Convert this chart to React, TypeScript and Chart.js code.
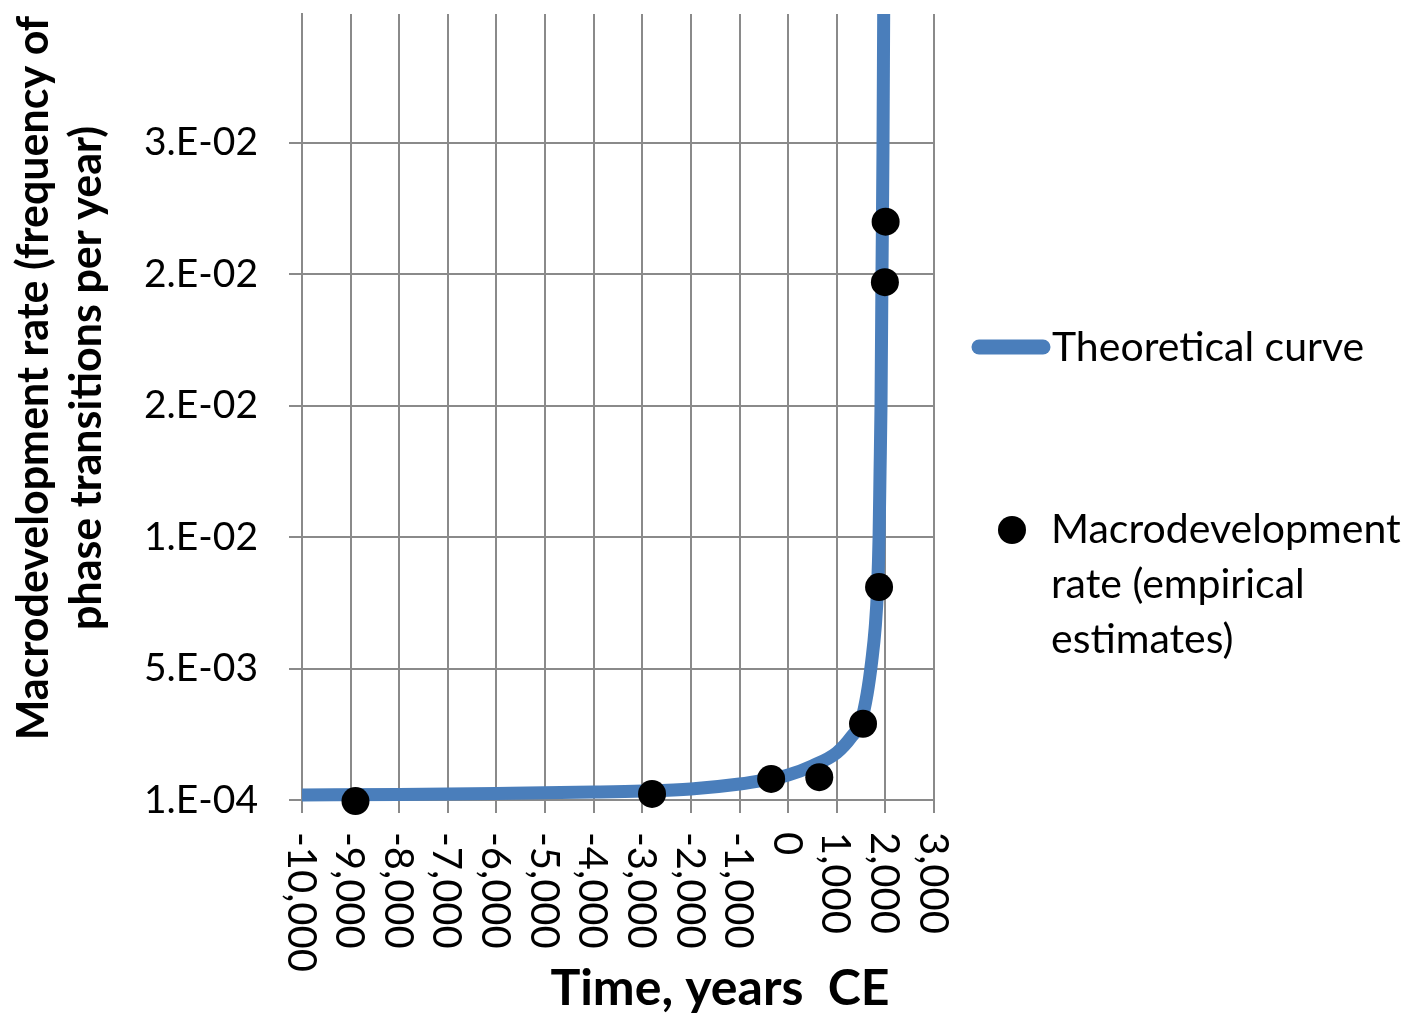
import React, { useEffect, useRef } from "react";
import { Chart, registerables } from "chart.js";

Chart.register(...registerables);

// ---------- data ----------
const xTickValues = [-10000, -9000, -8000, -7000, -6000, -5000, -4000, -3000, -2000, -1000, 0, 1000, 2000, 3000];
const xTickLabels = ["-10,000", "-9,000", "-8,000", "-7,000", "-6,000", "-5,000", "-4,000", "-3,000", "-2,000", "-1,000", "0", "1,000", "2,000", "3,000"];
const yTickValues = [0.0001, 0.0051, 0.0101, 0.0151, 0.0201, 0.0251];
const yTickLabels = ["1.E-04", "5.E-03", "1.E-02", "2.E-02", "2.E-02", "3.E-02"];

const curveYears = [-10000, -8000, -6000, -4000, -3000, -2000, -1000, -500, 0, 500, 1000, 1300, 1500, 1625, 1720, 1790, 1840, 1870, 1890, 1910, 1930, 1950, 1965];
const curveRates = [0.00029, 0.00031, 0.00035, 0.0004, 0.00044, 0.00052, 0.00071, 0.00086, 0.00105, 0.0014, 0.0019, 0.0025, 0.0031, 0.00415, 0.0054, 0.00665, 0.0082, 0.0101, 0.0126, 0.0151, 0.0201, 0.0247, 0.03];

const empiricalYears = [-8900, -2800, -350, 640, 1540, 1870, 1990, 2005];
const empiricalRates = [0.00006, 0.00033, 0.0009, 0.00097, 0.003, 0.0082, 0.0198, 0.0221];

const curveLabel = "Theoretical curve";
const empiricalLabel = "Macrodevelopment rate (empirical estimates)";
const empiricalLegendLines = ["Macrodevelopment", "rate (empirical", "estimates)"];
const xTitle = "Time, years  CE";
const yTitleLines = ["Macrodevelopment rate (frequency of", "phase transitions per year)"];

// ---------- styles ----------
const FONT = 'Lato, "Open Sans", sans-serif';
const BLUE = "#4A7EBB";
const GRID = "#8a8a8a";
const W = 1421;
const H = 1017;

const overlayPlugin = {
  id: "overlay",
  afterDraw(chart: any) {
    const ctx: CanvasRenderingContext2D = chart.ctx;
    const xs = chart.scales.x;
    const area = chart.chartArea;
    ctx.save();
    ctx.fillStyle = "#000";

    // x tick labels, rotated clockwise (read top to bottom)
    const tickSize = 40;
    ctx.font = `${tickSize}px ${FONT}`;
    ctx.textAlign = "left";
    ctx.textBaseline = "alphabetic";
    const capH = tickSize * 0.72;
    xTickValues.forEach((v, i) => {
      const px = xs.getPixelForValue(v);
      ctx.save();
      ctx.translate(px, area.bottom + 32);
      ctx.rotate(Math.PI / 2);
      ctx.fillText(xTickLabels[i], 0, capH / 2);
      ctx.restore();
    });

    // x title
    ctx.font = `bold 50px ${FONT}`;
    ctx.textAlign = "center";
    ctx.fillText(xTitle, 720, 1005);

    // y title (two lines, reading upward)
    ctx.font = `bold 43px ${FONT}`;
    const midY = 378;
    [48, 101].forEach((bx, i) => {
      ctx.save();
      ctx.translate(bx, midY);
      ctx.rotate(-Math.PI / 2);
      ctx.fillText(yTitleLines[i], 0, 0);
      ctx.restore();
    });

    // legend
    const ds0 = chart.data.datasets[0];
    const ds1 = chart.data.datasets[1];
    const lx = area.right + 46;
    ctx.strokeStyle = ds0.borderColor;
    ctx.lineWidth = 15;
    ctx.lineCap = "round";
    ctx.beginPath();
    ctx.moveTo(lx - 1, 347);
    ctx.lineTo(lx + 63, 347);
    ctx.stroke();
    ctx.font = `41px ${FONT}`;
    ctx.textAlign = "left";
    ctx.textBaseline = "alphabetic";
    ctx.fillStyle = "#000";
    ctx.fillText(ds0.label, 1052, 361);

    ctx.fillStyle = ds1.backgroundColor;
    ctx.beginPath();
    ctx.arc(1012, 530, 14, 0, Math.PI * 2);
    ctx.fill();
    ctx.fillStyle = "#000";
    empiricalLegendLines.forEach((line, i) => {
      ctx.fillText(line, 1051, 543 + i * 55);
    });

    ctx.restore();
  },
};

export default function App() {
  const canvasRef = useRef<HTMLCanvasElement | null>(null);

  useEffect(() => {
    const canvas = canvasRef.current;
    if (!canvas) return;
    const chart = new Chart(canvas, {
      type: "scatter",
      data: {
        datasets: [
          {
            label: curveLabel,
            data: curveYears.map((x, i) => ({ x, y: curveRates[i] })),
            showLine: true,
            borderColor: BLUE,
            backgroundColor: BLUE,
            borderWidth: 13,
            pointRadius: 0,
            pointHoverRadius: 0,
            cubicInterpolationMode: "monotone",
            borderJoinStyle: "round",
            clip: { left: 0, top: 0, right: 0, bottom: 8 },
            order: 2,
          } as any,
          {
            label: empiricalLabel,
            data: empiricalYears.map((x, i) => ({ x, y: empiricalRates[i] })),
            showLine: false,
            pointRadius: 14,
            pointHoverRadius: 14,
            pointBackgroundColor: "#000",
            pointBorderColor: "#000",
            backgroundColor: "#000",
            borderColor: "#000",
            borderWidth: 0,
            clip: false,
            order: 1,
          } as any,
        ],
      },
      options: {
        animation: false,
        responsive: false,
        events: [],
        layout: { padding: { left: 0, top: 12, right: W - 934, bottom: 0 } },
        plugins: {
          legend: { display: false },
          tooltip: { enabled: false },
        },
        scales: {
          x: {
            type: "linear",
            min: -10000,
            max: 3000,
            afterFit: (scale: any) => {
              scale.height = 217;
              scale.paddingLeft = 0;
              scale.paddingRight = 0;
              scale.paddingTop = 0;
              scale.paddingBottom = 0;
            },
            ticks: { display: false, stepSize: 1000 },
            grid: { color: GRID, lineWidth: 2, tickLength: 13, drawTicks: true },
            border: { color: GRID, width: 2 },
          },
          y: {
            type: "linear",
            min: 0.0001,
            max: 0.03,
            afterFit: (scale: any) => {
              scale.width = 302;
              scale.paddingTop = 0;
              scale.paddingBottom = 0;
              scale.paddingLeft = 0;
              scale.paddingRight = 0;
            },
            afterBuildTicks: (scale: any) => {
              scale.ticks = yTickValues.map((v) => ({ value: v }));
            },
            ticks: {
              padding: 31,
              color: "#000",
              font: { family: FONT, size: 39 },
              callback: (_v: any, i: number) => yTickLabels[i],
            },
            grid: { color: GRID, lineWidth: 2, tickLength: 13, drawTicks: true },
            border: { color: GRID, width: 2 },
          },
        },
      } as any,
      plugins: [overlayPlugin],
    });
    return () => chart.destroy();
  }, []);

  return (
    <div style={{ position: "fixed", left: 0, top: 0, width: W, height: H, background: "#fff" }}>
      <canvas ref={canvasRef} width={W} height={H} style={{ display: "block" }} />
    </div>
  );
}
